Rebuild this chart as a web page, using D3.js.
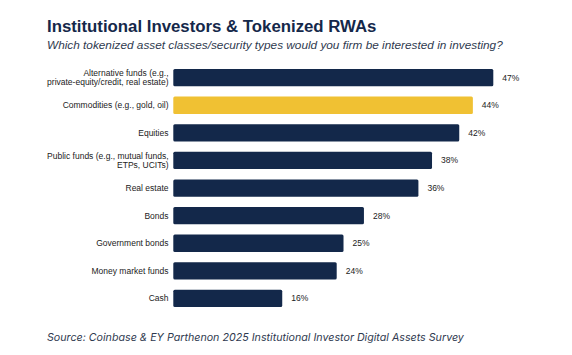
<!DOCTYPE html>
<html>
<head>
<meta charset="utf-8">
<script src="https://cdn.jsdelivr.net/npm/d3@7"></script>
<style>
  html, body { margin: 0; padding: 0; background: #ffffff; }
  svg { display: block; }
</style>
</head>
<body>
<svg id="chart" width="572" height="355"></svg>
<script>
const categories = [
  "Alternative funds (e.g.,\nprivate-equity/credit, real estate)",
  "Commodities (e.g., gold, oil)",
  "Equities",
  "Public funds (e.g., mutual funds,\nETPs, UCITs)",
  "Real estate",
  "Bonds",
  "Government bonds",
  "Money market funds",
  "Cash"
];
const values = [47, 44, 42, 38, 36, 28, 25, 24, 16];
const highlighted = ["Commodities (e.g., gold, oil)"];
const titleText = "Institutional Investors & Tokenized RWAs";
const subtitleText = "Which tokenized asset classes/security types would you firm be interested in investing?";
const sourceText = "Source: Coinbase & EY Parthenon 2025 Institutional Investor Digital Assets Survey";

const data = categories.map((c, i) => ({ cat: c, value: values[i] }));

const svg = d3.select("#chart");
const navy = "#13284a";
const gold = "#f0c133";

svg.append("text")
  .attr("x", 47).attr("y", 32)
  .attr("font-family", "'Liberation Sans', Arial, sans-serif")
  .attr("font-weight", "bold")
  .attr("font-size", 16.8)
  .attr("fill", "#15284a")
  .text(titleText);

svg.append("text")
  .attr("x", 47).attr("y", 49.3)
  .attr("font-family", "'Liberation Sans', Arial, sans-serif")
  .attr("font-style", "italic")
  .attr("font-size", 11.8)
  .attr("fill", "#2f3a4f")
  .text(subtitleText);

const x = d3.scaleLinear().domain([0, 47]).range([173.3, 493.3]);
const y = d3.scaleBand().domain(categories).range([63.85, 312.25])
  .paddingInner(0.373).paddingOuter(0.1865);

svg.append("g").selectAll("rect").data(data).join("rect")
  .attr("x", x(0))
  .attr("y", d => y(d.cat))
  .attr("width", d => x(d.value) - x(0))
  .attr("height", y.bandwidth())
  .attr("rx", 1.5)
  .attr("fill", d => highlighted.includes(d.cat) ? gold : navy);

svg.append("g").selectAll("text").data(data).join("text")
  .attr("x", d => x(d.value) + 9)
  .attr("y", d => y(d.cat) + y.bandwidth() / 2)
  .attr("dy", "0.35em")
  .attr("font-family", "'Liberation Sans', Arial, sans-serif")
  .attr("font-size", 8.5)
  .attr("fill", "#222")
  .text(d => d.value + "%");

const lab = svg.append("g").selectAll("text").data(data).join("text")
  .attr("text-anchor", "end")
  .attr("font-family", "'Liberation Sans', Arial, sans-serif")
  .attr("font-size", 8.5)
  .attr("fill", "#222")
  .attr("transform", d => `translate(168.5, ${y(d.cat) + y.bandwidth() / 2})`);
lab.each(function (d) {
  const lines = d.cat.split("\n");
  const lh = 9.4;
  const t = d3.select(this);
  lines.forEach((ln, i) => {
    t.append("tspan")
      .attr("x", 0)
      .attr("y", (i - (lines.length - 1) / 2) * lh)
      .attr("dy", "0.35em")
      .text(ln);
  });
});

svg.append("text")
  .attr("x", 47).attr("y", 341)
  .attr("font-family", "Inter, 'Open Sans', sans-serif")
  .attr("font-style", "italic")
  .attr("font-size", 10.7)
  .attr("fill", "#2f3a4f")
  .text(sourceText);
</script>
</body>
</html>
